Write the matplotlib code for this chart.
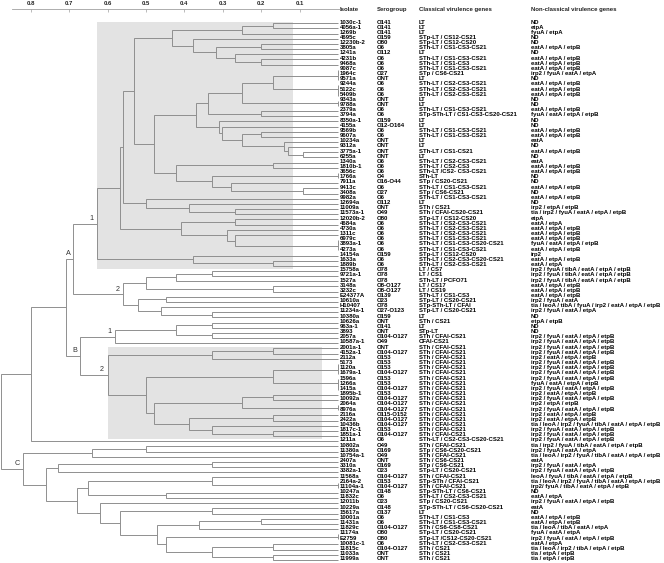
import matplotlib
matplotlib.use("Agg")
import matplotlib.pyplot as plt
from matplotlib.patches import Rectangle
import matplotlib.transforms as mtransforms

plt.rcParams['font.family'] = ['Liberation Sans', 'DejaVu Sans']

# ---------------- data ----------------
isolates = [
    "1030c-1", "4056a-1", "1269b", "4695c", "12230b-2", "3805a", "1241a", "4231b", "9468a", "9087c",
    "1964c", "9571a", "9244a", "5122c", "5409b", "9343a", "9788a", "2379a", "3794a", "8350a-1",
    "4155a", "9569b", "9607a", "10234a", "9312a", "3775a-1", "6255a", "1340a", "1810b-1", "3656c",
    "1766a", "7911a", "9413c", "3408a", "9982a", "12694a", "11009a", "11573a-1", "12020b-2", "4684a",
    "4730a", "1311c", "6979c", "3893a-1", "4273a", "14154a", "1633a", "1889b", "15758a", "9721a-1",
    "1527a", "3148a", "3232c", "E24377A", "10610a", "H10407", "11234a-1", "10380a", "10626a", "963a-1",
    "3893", "2057a", "10587a-1", "2001a-1", "4152a-1", "2112a", "5173", "1120a", "1679a-1", "1596a",
    "1266a", "1415a", "1895b-1", "10092a", "2064a", "8976a", "2116a", "2422a", "10436b", "1817c-1",
    "1851a-1", "1211a", "10802a", "11380a", "10754a-1", "2407a", "3310a", "3382a-1", "11568a", "2164a-2",
    "11104a-1", "10247a", "11832c", "12011b", "10229a", "15617a", "10001a", "11431a", "11829c", "11174a",
    "E2759", "10081c-1", "11815c", "11033a", "11999a"]

serogroups = [
    "O141", "O141", "O141", "O159", "O80", "O6", "O112", "O6", "O6", "O6",
    "O27", "ONT", "O6", "O6", "O6", "ONT", "ONT", "O6", "O6", "O159",
    "O12-O164", "O6", "O6", "ONT", "ONT", "ONT", "ONT", "O6", "O6", "O6",
    "O4", "O16-O44", "O6", "O27", "O6", "O112", "ONT", "O49", "O80", "O6",
    "O6", "O6", "O6", "O6", "O6", "O159", "O6", "O6", "O78", "O78",
    "O78", "O8-O127", "O8-O127", "O139", "O23", "O78", "O27-O123", "O159", "ONT", "O141",
    "ONT", "O104-O127", "O49", "ONT", "O104-O127", "O153", "O153", "O153", "O104-O127", "O153",
    "O153", "O104-O127", "O153", "O104-O127", "O104-O127", "O104-O127", "O115-O152", "O104-O127", "O104-O127", "O153",
    "O104-O127", "O6", "O49", "O169", "O49", "ONT", "O169", "O23", "O104-O127", "O153",
    "O104-O127", "O148", "O6", "O23", "O148", "O137", "O6", "O6", "O104-O127", "O80",
    "O80", "O6", "O104-O127", "ONT", "ONT"]

classical = [
    "LT", "LT", "LT", "STp-LT / CS12-CS21", "STp-LT / CS12-CS20", "STh-LT / CS1-CS3-CS21", "LT",
    "STh-LT / CS1-CS3-CS21", "STh-LT / CS1-CS3", "STh-LT / CS1-CS3-CS21",
    "STp / CS6-CS21", "LT", "STh-LT / CS2-CS3-CS21", "STh-LT / CS2-CS3-CS21", "STh-LT / CS2-CS3-CS21",
    "LT", "LT", "STh-LT / CS1-CS3-CS21", "STp-STh-LT / CS1-CS3-CS20-CS21", "LT",
    "LT", "STh-LT / CS1-CS3-CS21", "STh-LT / CS1-CS3-CS21", "LT", "LT", "STh-LT / CS1-CS21", "LT",
    "STh-LT / CS2-CS3-CS21", "STh-LT / CS2-CS3", "STh-LT /CS2- CS3-CS21",
    "STh-LT", "STp / CS20-CS21", "STh-LT / CS1-CS3-CS21", "STp / CS6-CS21", "STh-LT / CS1-CS3-CS21",
    "LT", "STh / CS21", "STh / CFAI-CS20-CS21", "STp-LT / CS12-CS20", "STh-LT / CS2-CS3-CS21",
    "STh-LT / CS2-CS3-CS21", "STh-LT / CS2-CS3-CS21", "STh-LT / CS1-CS3-CS21", "STh-LT / CS1-CS3-CS20-CS21",
    "STh-LT / CS1-CS3-CS21", "STp-LT / CS12-CS20", "STh-LT / CS2-CS3-CS20-CS21", "STh-LT / CS2-CS3-CS21",
    "LT / CS7", "LT / CS1",
    "STh-LT / PCFO71", "LT / CS17", "LT / CS19", "STh-LT / CS1-CS3", "STp-LT / CS20-CS21",
    "STp-STh-LT / CFAI", "STp-LT / CS20-CS21", "LT", "STh / CS21", "LT",
    "STp-LT", "STh / CFAI-CS21", "CFAI-CS21", "STh / CFAI-CS21", "STh / CFAI-CS21", "STh / CFAI-CS21",
    "STh / CFAI-CS21", "STh / CFAI-CS21", "STh / CFAI-CS21", "STh / CFAI-CS21",
    "STh / CFAI-CS21", "STh / CFAI-CS21", "STh / CFAI-CS21", "STh / CFAI-CS21", "STh / CFAI-CS21",
    "STh / CFAI-CS21", "STh / CFAI-CS21", "STh / CFAI-CS21", "STh / CFAI-CS21", "STh / CFAI-CS21",
    "STh / CFAI-CS21", "STh-LT / CS2-CS3-CS20-CS21", "STh / CFAI-CS21", "STp / CS6-CS20-CS21",
    "STh / CFAI-CS21", "STh / CS6-CS21", "STp / CS6-CS21", "STp-LT / CS20-CS21", "STh / CFAI-CS21",
    "STp-STh / CFAI-CS21",
    "STh / CFAI-CS21", "STp-STh-LT / CS6-CS21", "STh-LT / CS2-CS3-CS21", "STp / CS20-CS21",
    "STp-STh-LT / CS6-CS20-CS21", "LT", "STh-LT / CS1-CS3", "STh-LT / CS1-CS3-CS21",
    "STh / CS6-CS8-CS21", "STp-LT / CS20-CS21",
    "STp-LT /CS12-CS20-CS21", "STh-LT / CS2-CS3-CS21", "STh / CS21", "STh / CS21", "STh / CS21"]

E3 = "eatA / etpA / etpB"
I5 = "irp2 / fyuA / eatA / etpA / etpB"
I6 = "irp2 / fyuA / tibA / eatA / etpA / etpB"
nonclassical = [
    "ND", "etpA", "fyuA / etpA", "ND", "ND", E3, "ND", E3, E3, E3,
    "irp2 / fyuA / eatA / etpA", "ND", E3, E3, E3, "ND", "ND", E3, "fyuA / eatA / etpA / etpB", "ND",
    "ND", E3, E3, "eatA", "ND", E3, "ND", "eatA", E3, E3,
    "ND", "ND", E3, "ND", E3, "ND", "irp2 / etpA / etpB", "tia / irp2 / fyuA / eatA / etpA / etpB",
    "etpA", "eatA / etpA",
    E3, E3, E3, "fyuA / eatA / etpA / etpB", E3, "irp2", E3, "eatA / etpA", I6, I6,
    I6, E3, E3, E3, "irp2 / fyuA / eatA", "tia / leoA / tibA / fyuA / irp2 / eatA / etpA / etpB",
    "irp2 / fyuA / eatA / etpA", "ND", "etpA / etpB", "ND",
    "ND", I5, I5, I5, I5, "irp2 / eatA / etpA / etpB", I5, I5, I5, I5,
    "fyuA / eatA / etpA / etpB", I5, "irp2 / eatA / etpA / etpB", I5, "irp2 / etpA / etpB", I5,
    "irp2 / eatA / etpA / etpB", "irp2 / eatA / etpA / etpB",
    "tia / leoA / irp2 / fyuA / tibA / eatA / etpA / etpB", I5,
    I5, I5, "tia / irp2 / fyuA / tibA / eatA / etpA / etpB", "irp2 / fyuA / eatA / etpA",
    "tia / leoA / irp2 / fyuA / tibA / eatA / etpA / etpB", "eatA", "irp2 / fyuA / eatA / etpA", I5,
    "leoA / fyuA / tibA / eatA / etpA / etpB", "tia / leoA / irp2 / fyuA / tibA / eatA / etpA / etpB",
    "irp2/ fyuA / tibA / eatA / etpA / etpB", "ND", "eatA / etpA", I5, "eatA", "ND", E3, E3,
    "tia / leoA / tibA / eatA / etpA", "fyuA / eatA / etpA",
    I5, "eatA / etpA", "tia / leoA / irp2 / tibA / etpA / etpB", "tia / etpA / etpB", "tia / etpA / etpB"]

headers = ["Isolate", "Serogroup", "Classical virulence genes", "Non-classical virulence genes"]

# dendrogram: (merge height, left, right); integers are row indices of isolates
A1 = (0.628,
      (0.569,
       (0.559,
        (0.530,
         (0.431,
          (0.250, (0.170, 0, 1), 2),
          (0.378, 3, (0.319, (0.200, 4, 5), (0.269, 6, (0.200, 7, 8))))),
         (0.479,
          (0.371,
           (0.339,
            (0.250, (0.170, (0.0, (0.0, 9, 10), 11), (0.0, 12, (0.0, 13, 14))), (0.0, 15, 16)),
            (0.200, 17, 18)),
           (0.311, 19, (0.301, 20, (0.250, (0.200, 21, 22),
                                    (0.141, 23, (0.129, 24, (0.090, 25, 26))))))),
          (0.422, (0.170, 27, 28),
           (0.329, (0.0, 29, 30), (0.279, 31, (0.090, 32, 33)))))),
        (0.500, 34, (0.389, 35, (0.269, 36, 37)))),
       (0.410, (0.269, 38, 39), (0.290, 40, (0.269, 41, (0.0, (0.0, 42, 43), 44))))),
      (0.378, 45, (0.170, 46, 47)))
A2 = (0.559,
      (0.500, (0.422, (0.329, 48, 49), 50), (0.170, 51, 52)),
      (0.520, (0.449, 53, 54), (0.460, 55, (0.329, 56, 57))))
A = (0.689, A1, A2)
B1 = (0.581, (0.422, (0.329, 58, 59), (0.329, 60, 61)), 62)
B2 = (0.600,
      (0.329, (0.170, 63, 64), 65),
      (0.500,
       (0.170, (0.0, (0.0, 66, 67), 68), (0.0, 69, (0.0, 70, 71))),
       (0.479,
        (0.250, (0.170, 72, 73), (0.0, 74, 75)),
        (0.389, (0.170, 76, 77), (0.329, 78, (0.170, 79, 80))))))
B = (0.672, B1, B2)
AB = (0.709, A, B)
N = (0.799, AB, 81)
C = (0.820,
     (0.640, (0.500, 82, 83), 84),
     (0.760,
      (0.728, (0.329, 85, 86), 87),
      (0.679,
       (0.650, (0.329, 88, (0.0, 89, 90)), (0.449, 91, 92)),
       (0.620, 93,
        (0.569, (0.329, 94, 95),
         (0.471, (0.361, (0.200, 96, 97), 98),
          (0.449, (0.0, 99, 100), (0.329, (0.170, 101, 102), (0.170, 103, 104)))))))))
ROOT = (0.878, N, C)

cluster_labels = [("A", A), ("1", A1), ("2", A2), ("B", B), ("1", B1), ("2", B2), ("C", C)]
shaded = [(A1, 0.116), (B2, 0.042)]   # cluster, right edge of the grey box (distance)
scale_ticks = [0.8, 0.7, 0.6, 0.5, 0.4, 0.3, 0.2, 0.1]

# ---------------- layout ----------------
W, H = 664, 563
X0, PXU = 338.0, 384.0      # pixel of distance 0, pixels per distance unit
Y0, PXR = 23.3, 5.16        # pixel of first row, pixels per row
LC, LW = "#8f8f8f", 0.7
FS = 4.3

fig = plt.figure(figsize=(W / 100, H / 100), dpi=100)
ax = fig.add_axes([0, 0, 1, 1])
ax.set_xlim(X0 / PXU, (X0 - W) / PXU)
ax.set_ylim((H - Y0) / PXR, -Y0 / PXR)
ax.axis("off")

pos = {}


def draw(node):
    if isinstance(node, int):
        return 0.0, float(node), node, node
    h, l, r = node
    hl, yl, lo1, hi1 = draw(l)
    hr, yr, lo2, hi2 = draw(r)
    ax.plot([hl, h, h, hr], [yl, yl, yr, yr], color=LC, lw=LW,
            solid_capstyle="butt", solid_joinstyle="miter", zorder=2)
    y = (yl + yr) / 2
    pos[id(node)] = (h, y, min(lo1, lo2), max(hi1, hi2))
    return h, y, min(lo1, lo2), max(hi1, hi2)


draw(ROOT)

for node, right in shaded:
    h, y, lo, hi = pos[id(node)]
    ax.add_patch(Rectangle((right, lo - 0.3), h - right, hi - lo + 0.85,
                           facecolor="#e3e3e3", edgecolor="none", zorder=1))

for txt, node in cluster_labels:
    h, y, lo, hi = pos[id(node)]
    ax.text(h + 5.5 / PXU, y - 1.0, txt, fontsize=5.2, color="#333333",
            ha="center", va="center", zorder=3)

# table text
tr = mtransforms.blended_transform_factory(fig.transFigure, ax.transData)
col_x = [340 / W, 376.5 / W, 419 / W, 531 / W]
columns = [isolates, serogroups, classical, nonclassical]
for cx, col in zip(col_x, columns):
    for i, s in enumerate(col):
        ax.text(cx, i - 0.25, s, transform=tr, fontsize=FS, color="black",
                fontweight="bold", ha="left", va="center")
for cx, hd in zip(col_x, headers):
    ax.text(cx, (9.0 - Y0) / PXR, hd, transform=tr, fontsize=FS, color="#222222",
            fontweight="bold", ha="left", va="center")

# distance scale
line_y = 1 - 8.7 / H
sc = fig.add_axes([0, line_y - 0.01, 340 / W, 0.01])
sc.set_xlim(X0 / PXU, (X0 - 340) / PXU)
sc.patch.set_visible(False)
for s in ["left", "right", "bottom"]:
    sc.spines[s].set_visible(False)
sc.spines["top"].set_color("#a0a0a0")
sc.spines["top"].set_linewidth(0.6)
sc.spines["top"].set_bounds(0.85, -0.005)
sc.xaxis.tick_top()
sc.set_xticks(scale_ticks)
sc.set_xticklabels([f"{t:.1f}" for t in scale_ticks], fontweight="bold")
sc.tick_params(axis="x", direction="in", length=2.2, width=0.5, colors="#a0a0a0",
               labelcolor="#222222", labelsize=FS, pad=1.6)
sc.set_yticks([])

fig.savefig("out.png", dpi=100)
